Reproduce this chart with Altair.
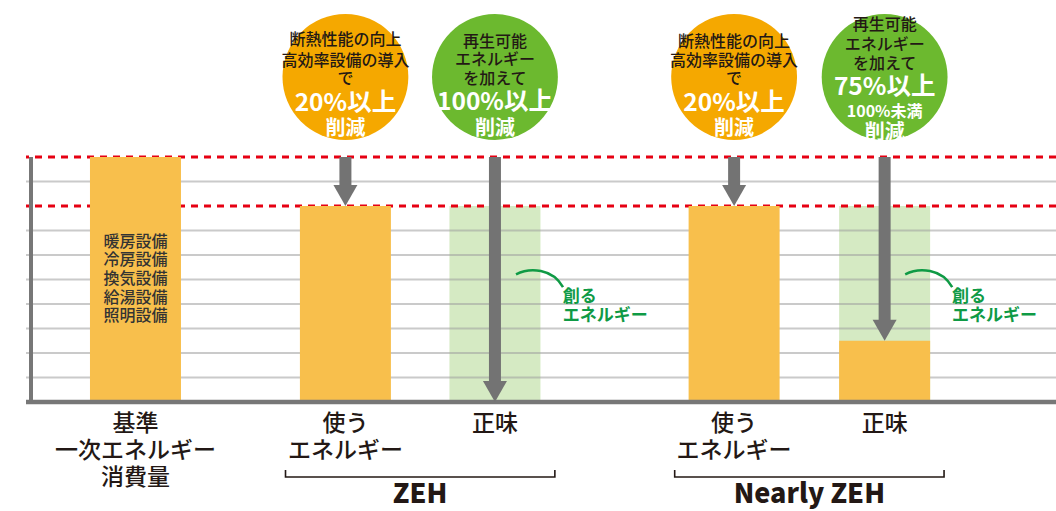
import altair as alt
import pandas as pd

# ---------------- data ----------------
categories = ["基準", "使う", "正味", "使う", "正味"]
groups = ["基準", "ZEH", "ZEH", "Nearly ZEH", "Nearly ZEH"]
used_energy = [100, 80, 0, 80, 25]          # orange bars (% of 基準)
created_energy = [0, 0, 80, 0, 80]          # green "創るエネルギー" band
arrow_to = [None, 80, 0, 80, 25]
grid_values = [10, 20, 30, 40, 50, 60, 70, 90]
ref_values = [100, 80]
equipment = ["暖房設備", "冷房設備", "換気設備", "給湯設備", "照明設備"]
bottom_labels = [["基準", "一次エネルギー", "消費量"], ["使う", "エネルギー"], ["正味"],
                 ["使う", "エネルギー"], ["正味"]]
group_names = ["ZEH", "Nearly ZEH"]
circle_dark = [["断熱性能の向上", "高効率設備の導入", "で"],
               ["再生可能", "エネルギー", "を加えて"],
               ["断熱性能の向上", "高効率設備の導入", "で"],
               ["再生可能", "エネルギー", "を加えて"]]
circle_white = [["20%以上", "削減"], ["100%以上", "削減"],
                ["20%以上", "削減"], ["75%以上", "100%未満", "削減"]]
created_label = ["創る", "エネルギー"]

# ---------------- layout ----------------
JP = "Noto Sans CJK JP"
slot_x = [131.5, 343.5, 494.5, 736, 888]
BAR_W = 91
TOP_PX, BOT_PX = 157, 402
PX_PER_UNIT = (BOT_PX - TOP_PX) / 100.0


def u(py):
    """page pixel row -> value units on the y scale"""
    return (BOT_PX - py) / PX_PER_UNIT


xscale = alt.Scale(domain=[26, 1056], nice=False, zero=False)
yscale = alt.Scale(domain=[0, 100], nice=False, zero=False)


def X(f):
    return alt.X(f"{f}:Q", scale=xscale, axis=None)


def Y(f):
    return alt.Y(f"{f}:Q", scale=yscale, axis=None)


ORANGE_BAR = "#F8BF4C"
GREEN_BG = "#D5EAC3"
ORANGE_C = "#F5A800"
GREEN_C = "#6CB92F"
GRAY = "#737373"
RED = "#E60012"
INK = "#231815"
GREEN_TXT = "#0f9a45"

bars_df = pd.DataFrame({"x": slot_x, "used": used_energy, "created": created_energy,
                        "base": [0] * 5, "cat": categories, "grp": groups})

green_bg = alt.Chart(bars_df).transform_filter("datum.created > 0").mark_bar(
    size=BAR_W, color=GREEN_BG).encode(x=X("x"), y=Y("created"), y2="base:Q")

grid = alt.Chart(pd.DataFrame({"v": grid_values})).mark_rule(
    color="#9f9f9f", opacity=0.55, strokeWidth=2).encode(y=Y("v"))

refs = alt.Chart(pd.DataFrame({"v": ref_values})).mark_rule(
    color=RED, strokeWidth=3, strokeDash=[7, 6]).encode(y=Y("v"))

orange = alt.Chart(bars_df).transform_filter("datum.used > 0").mark_bar(
    size=BAR_W, color=ORANGE_BAR).encode(x=X("x"), y=Y("used"), y2="base:Q")

eq_df = pd.DataFrame({"x": [slot_x[0]] * len(equipment),
                      "y": [u(241.7 + 18.6 * i) for i in range(len(equipment))],
                      "t": equipment})
eq_text = alt.Chart(eq_df).mark_text(font=JP, fontSize=16, fontWeight=500, color="#333333",
                                     baseline="middle").encode(x=X("x"), y=Y("y"), text="t:N")

axis_left = alt.Chart(pd.DataFrame({"x": [26], "a": [100], "b": [0]})).mark_rule(
    color="#777777", strokeWidth=4, y2Offset=2).encode(x=X("x"), y=Y("a"), y2="b:Q")
axis_bottom = alt.Chart(pd.DataFrame({"v": [0]})).mark_rule(
    color="#777777", strokeWidth=4.5).encode(y=Y("v"))

arr_df = pd.DataFrame({"x": slot_x[1:], "start": [100] * 4, "to": arrow_to[1:]})
shaft = alt.Chart(arr_df).mark_rule(color=GRAY, strokeWidth=12, y2Offset=-14).encode(
    x=X("x"), y=Y("start"), y2="to:Q")
head = alt.Chart(arr_df).mark_point(shape="M-1,-1.75L1,-1.75L0,0Z", size=576, filled=True,
                                    opacity=1, color=GRAY, strokeWidth=0).encode(
    x=X("x"), y=Y("to"))

circ_df = pd.DataFrame({"x": slot_x[1:], "y": [u(77)] * 4,
                        "c": [ORANGE_C, GREEN_C, ORANGE_C, GREEN_C]})
circles = alt.Chart(circ_df).mark_point(shape="circle", size=15837, filled=True, opacity=1,
                                        strokeWidth=0).encode(
    x=X("x"), y=Y("y"), color=alt.Color("c:N", scale=None))

dark_rows = []
dark_y = [[40, 60.5, 79], [41.5, 60, 78.5], [41.5, 61, 79], [25, 44.5, 63.5]]
for i, lines in enumerate(circle_dark):
    for j, t in enumerate(lines):
        dark_rows.append({"x": slot_x[i + 1], "y": u(dark_y[i][j]), "t": t})
dark_text = alt.Chart(pd.DataFrame(dark_rows)).mark_text(
    font=JP, fontSize=16, fontWeight=500, color=INK, baseline="middle").encode(
    x=X("x"), y=Y("y"), text="t:N")

white_rows = []
white_y = [[103.5, 129], [103, 129], [104, 129], [88, 112, 132.5]]
white_s = [[24.5, 20], [24.5, 20], [24.5, 20], [24.5, 16, 20]]
for i, lines in enumerate(circle_white):
    for j, t in enumerate(lines):
        white_rows.append({"x": slot_x[i + 1], "y": u(white_y[i][j]), "t": t, "s": white_s[i][j]})
white_text = alt.Chart(pd.DataFrame(white_rows)).mark_text(
    font=JP, fontWeight="bold", color="white", baseline="middle").encode(
    x=X("x"), y=Y("y"), text="t:N", size=alt.Size("s:Q", scale=None))

curve_df = pd.DataFrame({"x": [539.5, 932.5], "y": [u(279)] * 2})
curves = alt.Chart(curve_df).mark_point(
    shape="M-1,-0.2C-0.4,-0.5 0.55,-0.45 1,0.35", size=2209, filled=False,
    strokeWidth=2.5, color=GREEN_TXT, opacity=1).encode(x=X("x"), y=Y("y"))

cl_rows = []
for x0 in [563, 956]:
    for j, t in enumerate(created_label):
        cl_rows.append({"x": x0, "y": u(297 + 19 * j), "t": t})
created_text = alt.Chart(pd.DataFrame(cl_rows)).mark_text(
    font=JP, fontSize=17, fontWeight="bold", color=GREEN_TXT, align="left",
    baseline="middle").encode(x=X("x"), y=Y("y"), text="t:N")

bl_rows = []
for i, lines in enumerate(bottom_labels):
    for j, t in enumerate(lines):
        bl_rows.append({"x": slot_x[i], "y": u(424 + 27 * j), "t": t})
bottom_text = alt.Chart(pd.DataFrame(bl_rows)).mark_text(
    font=JP, fontSize=23, fontWeight=500, color=INK, baseline="middle").encode(
    x=X("x"), y=Y("y"), text="t:N")

brackets = [(283, 555), (676, 948)]
br_rows = []
for k, (a, b) in enumerate(brackets):
    for o, (xx, yy) in enumerate([(a, 470), (a, 477), (b, 477), (b, 470)]):
        br_rows.append({"x": xx, "y": u(yy), "g": group_names[k], "o": o})
bracket = alt.Chart(pd.DataFrame(br_rows)).mark_line(color=INK, strokeWidth=1.6).encode(
    x=X("x"), y=Y("y"), detail="g:N", order="o:Q")

gl_df = pd.DataFrame({"x": [(a + b) / 2 for a, b in brackets], "y": [u(495)] * 2,
                      "t": group_names})
group_text = alt.Chart(gl_df).mark_text(
    font=JP, fontSize=27, fontWeight=900, color=INK, baseline="middle").encode(
    x=X("x"), y=Y("y"), text="t:N")

chart = alt.layer(
    green_bg, grid, refs, orange, eq_text, axis_left, axis_bottom,
    shaft, head, circles, dark_text, white_text, curves, created_text,
    bottom_text, bracket, group_text,
).properties(
    width=1030, height=245,
    padding={"left": 26, "top": 157, "right": 0, "bottom": 109},
    autosize="none",
).configure_view(stroke=None)

chart.save("out.html", embed_options={"renderer": "svg", "actions": False})
